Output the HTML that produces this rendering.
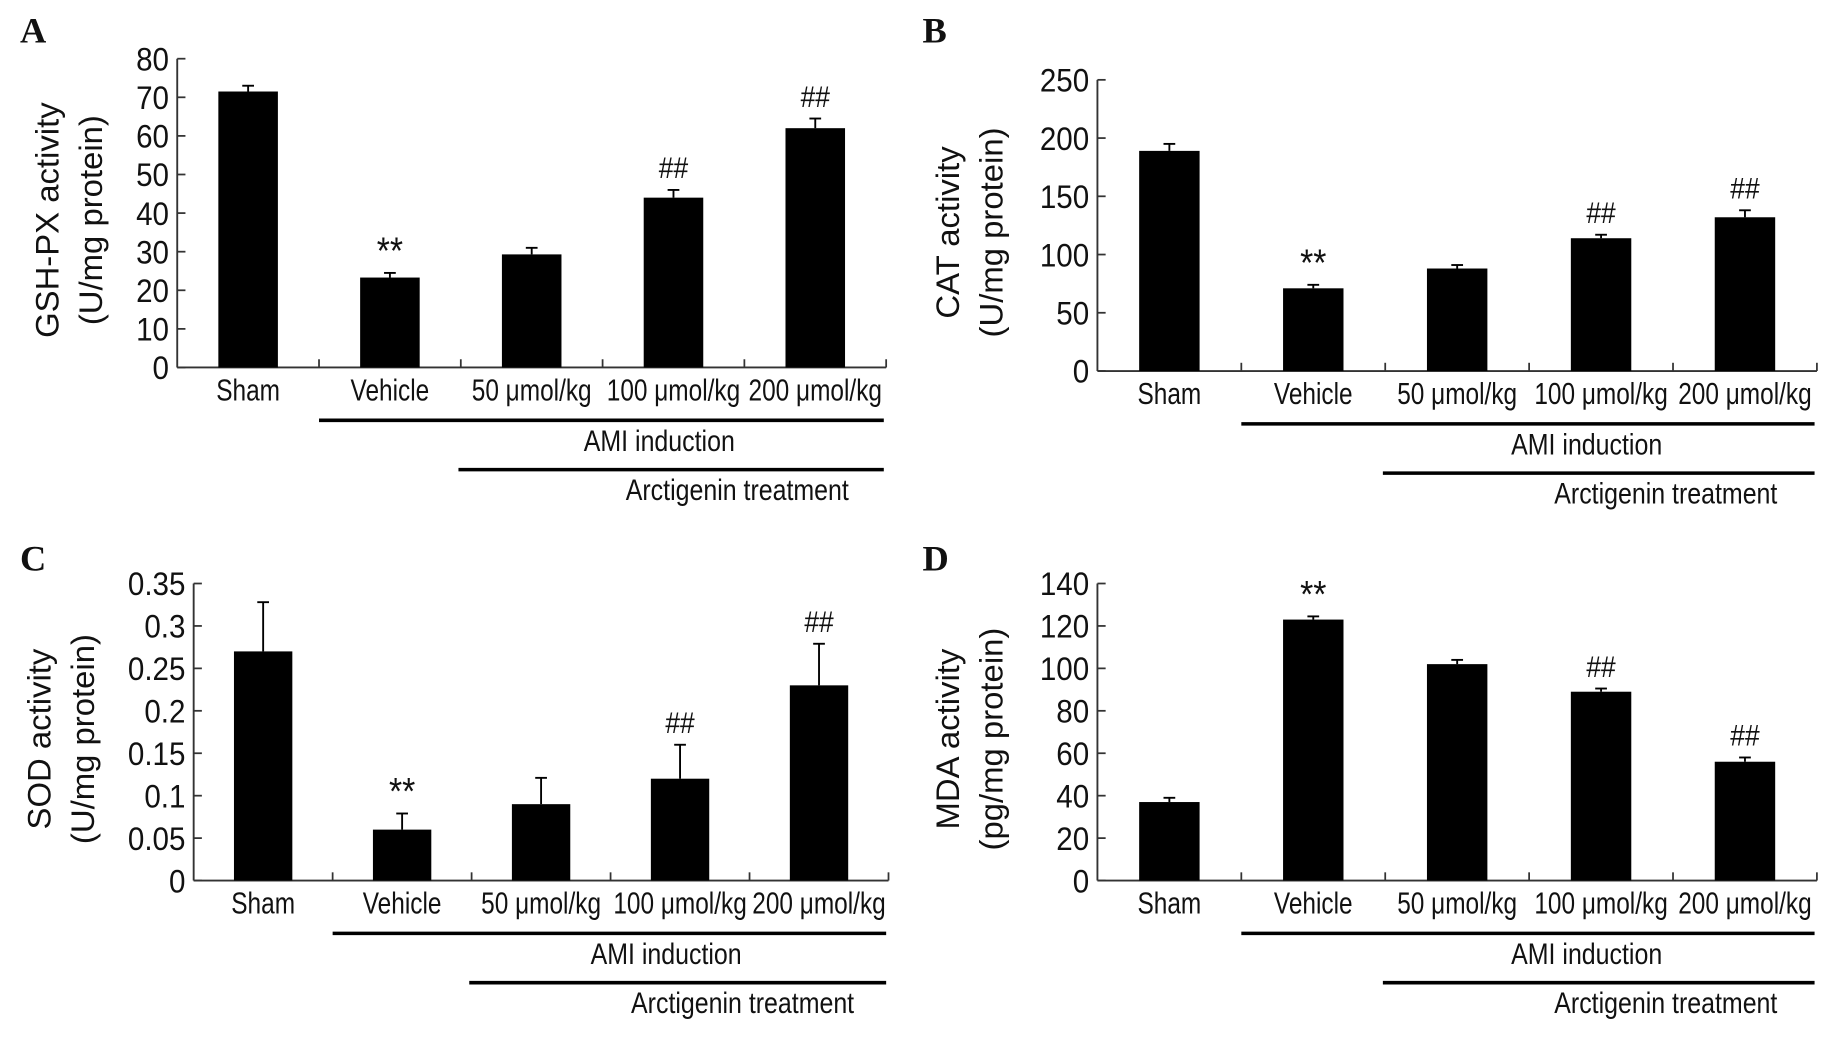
<!DOCTYPE html>
<html><head><meta charset="utf-8"><style>
html,body{margin:0;padding:0;background:#fff;}
svg{display:block;}
text{font-family:"Liberation Sans",Arial,sans-serif;fill:#111;}
text.letter{font-family:"Liberation Serif","Times New Roman",serif;}
</style></head><body>
<svg id="fig" width="1831" height="1059" viewBox="0 0 1560 902" preserveAspectRatio="none" xmlns="http://www.w3.org/2000/svg"></svg>
<script>
const categories = ["Sham","Vehicle","50 μmol/kg","100 μmol/kg","200 μmol/kg"];
const gshValues = [71.5, 23.3, 29.3, 44, 62];
const gshErrors = [1.5, 1.2, 1.7, 2, 2.5];
const gshTicks = [0,10,20,30,40,50,60,70,80];
const gshMarks = ["","**","","##","##"];
const catValues = [189, 71, 88, 114, 132];
const catErrors = [6, 3, 3, 3, 6];
const catTicks = [0,50,100,150,200,250];
const catMarks = ["","**","","##","##"];
const sodValues = [0.27, 0.06, 0.09, 0.12, 0.23];
const sodErrors = [0.058, 0.019, 0.031, 0.04, 0.049];
const sodTicks = [0,0.05,0.1,0.15,0.2,0.25,0.3,0.35];
const sodMarks = ["","**","","##","##"];
const mdaValues = [37, 123, 102, 89, 56];
const mdaErrors = [2, 1.5, 2, 1.5, 2];
const mdaTicks = [0,20,40,60,80,100,120,140];
const mdaMarks = ["","**","","##","##"];

const NS="http://www.w3.org/2000/svg";
const svg=document.getElementById('fig');
function mk(tag,attrs,parent){const e=document.createElementNS(NS,tag);for(const k in attrs)e.setAttribute(k,attrs[k]);(parent||svg).appendChild(e);return e;}
function txt(s,attrs,parent,squeeze){const t=mk('text',attrs,parent);t.textContent=s;if(squeeze){const w=t.getComputedTextLength();t.setAttribute('textLength',w*squeeze);t.setAttribute('lengthAdjust','spacingAndGlyphs');}return t;}

function panel(p){
  const g=mk('g',{});
  
  
  const x0=p.x0,x1=p.x1,y0=p.y0,yT=p.yT,max=p.ticks[p.ticks.length-1];
  const ys=v=>y0-(v/max)*(y0-yT);
  const cw=(x1-x0)/categories.length;
  const xc=i=>x0+cw*(i+0.5);
  const L=txt(p.letter,{x:p.lx,y:p.ly,'font-size':31,'font-weight':'bold','class':'letter'},g);
  
  
  const ya=mk('line',{x1:x0,y1:y0,x2:x0,y2:yT,stroke:'#333','stroke-width':1.6},g);
  
  
  const xa=mk('line',{x1:x0,y1:y0,x2:x1,y2:y0,stroke:'#333','stroke-width':1.6},g);
  
  
  p.ticks.forEach(t=>{
    mk('line',{x1:x0,y1:ys(t),x2:x0+7,y2:ys(t),stroke:'#333','stroke-width':1.5},g);
    const tl=txt(String(t),{x:x0-7,y:ys(t)+10,'font-size':28,'text-anchor':'end'},g,0.9);
    
    
  });
  for(let i=1;i<=categories.length;i++){
    mk('line',{x1:x0+cw*i,y1:y0,x2:x0+cw*i,y2:y0-7,stroke:'#333','stroke-width':1.5},g);
  }
  const bw=cw*0.42;
  categories.forEach((c,i)=>{
    const v=p.values[i],e=p.errors[i];
    const cx=xc(i);
    const el=mk('line',{x1:cx,y1:ys(v),x2:cx,y2:ys(v+e),stroke:'#000','stroke-width':1.6},g);
    
    
    mk('line',{x1:cx-5,y1:ys(v+e),x2:cx+5,y2:ys(v+e),stroke:'#000','stroke-width':1.6},g);
    const b=mk('rect',{x:cx-bw/2,y:ys(v),width:bw,height:y0-ys(v),fill:'#000'},g);
    
    
    if(p.marks[i]){
      const isStar=p.marks[i]=='**';
      const m=txt(p.marks[i],{x:cx,y:ys(v+e)-(isStar?8:10),'font-size':isStar?32:25,'text-anchor':'middle'},g,0.9);
      
      
    }
    const cl=txt(c,{x:cx,y:y0+28,'font-size':26,'text-anchor':'middle'},g,0.8);
    
    
  });
  const ami=mk('line',{x1:x0+cw,y1:y0+45,x2:x1-2,y2:y0+45,stroke:'#000','stroke-width':3},g);
  
  
  const at=txt('AMI induction',{x:x0+cw*3.4,y:y0+71,'font-size':25,'text-anchor':'middle'},g,0.85);
  
  
  const arc=mk('line',{x1:x0+cw*2-2,y1:y0+87,x2:x1-2,y2:y0+87,stroke:'#000','stroke-width':3},g);
  
  
  const art=txt('Arctigenin treatment',{x:x0+cw*3.95,y:y0+113,'font-size':25,'text-anchor':'middle'},g,0.85);
  
  
  const cy=(y0+yT)/2+6;
  const t1=txt(p.title1,{x:0,y:0,'font-size':28,'text-anchor':'middle',transform:`translate(${p.tx1},${cy}) rotate(-90)`},g);
  
  
  const t2=txt(p.title2,{x:0,y:0,'font-size':28,'text-anchor':'middle',transform:`translate(${p.tx1+37},${cy}) rotate(-90)`},g);
  
  
}
panel({name:'panel-a-gshpx',letter:'A',lx:17,ly:36,x0:151,x1:755,y0:313,yT:50,ticks:gshTicks,values:gshValues,errors:gshErrors,marks:gshMarks,title1:'GSH-PX activity',title2:'(U/mg protein)',tx1:50});
panel({name:'panel-b-cat',letter:'B',lx:786,ly:36,x0:935,x1:1548,y0:316,yT:68,ticks:catTicks,values:catValues,errors:catErrors,marks:catMarks,title1:'CAT activity',title2:'(U/mg protein)',tx1:817});
panel({name:'panel-c-sod',letter:'C',lx:17,ly:486,x0:165,x1:757,y0:750,yT:497,ticks:sodTicks,values:sodValues,errors:sodErrors,marks:sodMarks,title1:'SOD activity',title2:'(U/mg protein)',tx1:43});
panel({name:'panel-d-mda',letter:'D',lx:786,ly:486,x0:935,x1:1548,y0:750,yT:497,ticks:mdaTicks,values:mdaValues,errors:mdaErrors,marks:mdaMarks,title1:'MDA activity',title2:'(pg/mg protein)',tx1:817});
</script>
</body></html>
